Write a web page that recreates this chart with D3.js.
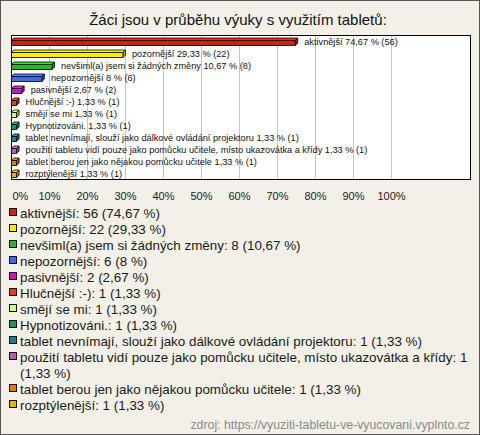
<!DOCTYPE html>
<meta charset="utf-8">
<style>
body { margin: 0; }
svg { display: block; font-family: "Liberation Sans", Arial, sans-serif; }
.grid line { stroke: #c6c6c6; }
.grid path, .axis path { display: none; }
.axis text { font-size: 11px; fill: #222; }
</style>
<div id="chart"></div>
<script src="https://cdn.jsdelivr.net/npm/d3@7"></script>
<script>

var title = "Žáci jsou v průběhu výuky s využitím tabletů:";
var source = "zdroj: https://vyuziti-tabletu-ve-vyucovani.vyplnto.cz";

var categories = ["aktivnější", "pozornější", "nevšiml(a) jsem si žádných změny", "nepozornější",
  "pasivnější", "Hlučnější :-)", "smějí se mi", "Hypnotizováni.",
  "tablet nevnímají, slouží jako dálkové ovládání projektoru",
  "použití tabletu vidí pouze jako pomůcku učitele, místo ukazovátka a křídy",
  "tablet berou jen jako nějakou pomůcku učitele", "rozptýlenější"];
var counts = [56, 22, 8, 6, 2, 1, 1, 1, 1, 1, 1, 1];
var percents = [74.67, 29.33, 10.67, 8, 2.67, 1.33, 1.33, 1.33, 1.33, 1.33, 1.33, 1.33];
var colors = ["#c8250f", "#ffec00", "#22bb22", "#3a6ee8", "#c616c6", "#e0440e",
  "#ccff77", "#169a58", "#1a7f99", "#b85cbb", "#e8780a", "#e8b00a"];
var ticks = [0, 10, 20, 30, 40, 50, 60, 70, 80, 90, 100];

var W = 480, H = 435;
var plot = {left: 11, top: 35, right: 471, bottom: 180};

var data = categories.map(function(c, i) {
  return {name: c, count: counts[i], pct: percents[i], color: colors[i]};
});

function fmt(p) { return String(p).replace(".", ","); }

var svg = d3.select("#chart").append("svg")
    .attr("width", W)
    .attr("height", H);

svg.append("rect")
    .attr("x", 0.5).attr("y", 0.5)
    .attr("width", W - 1).attr("height", H - 1)
    .attr("fill", "#f3f1e7")
    .attr("stroke", "#555");

svg.append("text")
    .attr("x", W / 2 - 2)
    .attr("y", 25)
    .attr("text-anchor", "middle")
    .style("font-size", "15px")
    .attr("fill", "#111")
    .text(title);

var x = d3.scaleLinear().domain([0, 100]).range([plot.left, plot.left + 380]);
var y = d3.scaleBand().domain(categories).range([plot.top, plot.bottom]);

svg.append("rect")
    .attr("x", plot.left).attr("y", plot.top)
    .attr("width", plot.right - plot.left).attr("height", plot.bottom - plot.top)
    .attr("fill", "#fff");

svg.append("g")
    .attr("class", "grid")
    .attr("transform", "translate(0," + plot.bottom + ")")
    .call(d3.axisBottom(x).tickValues(ticks.slice(1)).tickSize(-(plot.bottom - plot.top)).tickFormat(""));

svg.append("rect")
    .attr("x", plot.left + 0.5).attr("y", plot.top + 0.5)
    .attr("width", plot.right - plot.left - 1).attr("height", plot.bottom - plot.top - 1)
    .attr("fill", "none")
    .attr("stroke", "#000");

var axis = svg.append("g")
    .attr("class", "axis")
    .attr("transform", "translate(0," + (plot.bottom + 9) + ")")
    .call(d3.axisBottom(x).tickValues(ticks).tickSize(0).tickFormat(function(d) { return d + "%"; }));
axis.selectAll("line").remove();
axis.selectAll(".tick text").filter(function(d) { return d === 0; })
    .attr("text-anchor", "start").attr("x", 1);

// 3D bars
var bh = 5, dep = 2.5;
var bars = svg.append("g").selectAll("g")
    .data(data)
    .enter().append("g")
      .attr("transform", function(d) { return "translate(0," + Math.round(y(d.name) + y.bandwidth() / 2 - bh / 2 + 1) + ")"; });

bars.append("path")
    .attr("fill", function(d) { return d3.color(d.color).brighter(0.7); })
    .attr("stroke", "#000")
    .attr("stroke-width", 0.8)
    .attr("d", function(d) {
      var x0 = x(0) + 0.5, x1 = x(d.pct) + 0.5;
      return "M" + x0 + ",0.5L" + (x0 + dep) + "," + (0.5 - dep) + "L" + (x1 + dep) + "," + (0.5 - dep) + "L" + x1 + ",0.5Z";
    });

bars.append("path")
    .attr("fill", function(d) { return d3.color(d.color).darker(0.8); })
    .attr("stroke", "#000")
    .attr("stroke-width", 0.8)
    .attr("d", function(d) {
      var x1 = x(d.pct) + 0.5;
      return "M" + x1 + ",0.5L" + (x1 + dep) + "," + (0.5 - dep) + "L" + (x1 + dep) + "," + (0.5 + bh - dep) + "L" + x1 + "," + (0.5 + bh) + "Z";
    });

bars.append("rect")
    .attr("x", x(0) + 0.5)
    .attr("y", 0.5)
    .attr("width", function(d) { return x(d.pct) - x(0); })
    .attr("height", bh)
    .attr("fill", function(d) { return d.color; })
    .attr("stroke", "#000")
    .attr("stroke-width", 0.8);

bars.append("text")
    .attr("x", function(d) { return x(d.pct) + dep + 7; })
    .attr("y", bh)
    .style("font-size", "9.2px")
    .attr("fill", "#111")
    .text(function(d) { return d.name + " " + fmt(d.pct) + " % (" + d.count + ")"; });

// legend
var lineH = 16, ly = 213, maxW = 452;
data.forEach(function(d) {
  var g = svg.append("g").attr("transform", "translate(0," + ly + ")");
  g.append("rect")
      .attr("x", 9.5).attr("y", -4.5)
      .attr("width", 7).attr("height", 7)
      .attr("fill", d.color)
      .attr("stroke", "#111");
  var t = g.append("text")
      .attr("x", 20)
      .attr("y", 4.5)
      .style("font-size", "13.4px")
      .attr("fill", "#1a1a1a");
  var words = (d.name + ": " + d.count + " (" + fmt(d.pct) + " %)").split(" ");
  var line = [], tspan = t.append("tspan").attr("x", 20), n = 0;
  words.forEach(function(w) {
    line.push(w);
    tspan.text(line.join(" "));
    if (tspan.node().getComputedTextLength() > maxW && line.length > 1) {
      line.pop();
      tspan.text(line.join(" "));
      line = [w];
      n++;
      tspan = t.append("tspan").attr("x", 20).attr("dy", lineH).text(w);
    }
  });
  ly += lineH * (n + 1);
});

svg.append("text")
    .attr("x", 470)
    .attr("y", 429)
    .attr("text-anchor", "end")
    .style("font-size", "12.3px")
    .attr("fill", "#8a8a8a")
    .text(source);

</script>
